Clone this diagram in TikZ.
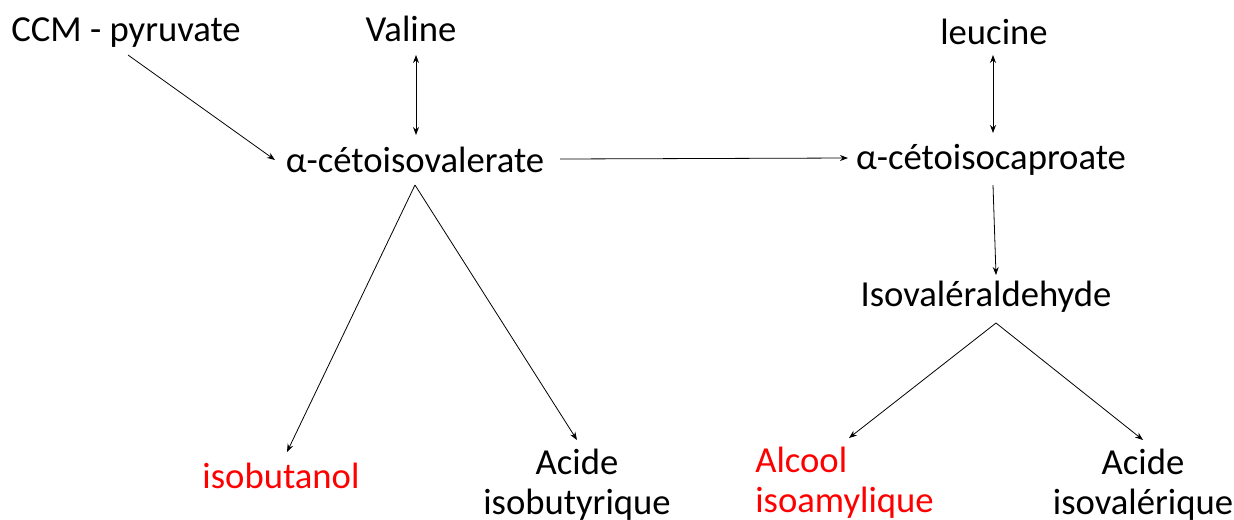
\documentclass[tikz,border=0pt]{standalone}
\usepackage{fontspec}
\setmainfont{Carlito}
\usetikzlibrary{arrows.meta,calc}
\begin{document}
\begin{tikzpicture}[x=0.75pt,y=-0.75pt,
  lbl/.style={inner sep=0pt,font=\fontsize{27.5}{30}\selectfont},
  redlbl/.style={lbl,text=red},
  arr/.style={line width=0.6pt,-{Stealth[length=6pt,width=4.5pt]}},
  darr/.style={line width=0.6pt,{Stealth[length=6pt,width=4.5pt]}-{Stealth[length=6pt,width=4.5pt]}}]
\useasboundingbox (0,0) rectangle (1234,519);
\node[lbl] (ccm) at (126,33) {CCM - pyruvate};
\node[lbl] (val) at (411,29) {Valine};
\node[lbl] (kiv) at (415,160) {α-cétoisovalerate};
\node[lbl] (leu) at (994,32) {leucine};
\node[lbl] (kic) at (991,160) {α-cétoisocaproate};
\node[lbl] (iva) at (986,297) {Isovaléraldehyde};
\node[redlbl] (ibu) at (281,476) {isobutanol};
\node[lbl,align=center] (aib) at (577,485) {Acide\\isobutyrique};
\node[redlbl,align=left,anchor=west] (aia) at (755,483) {Alcool\\isoamylique};
\node[lbl,align=center] (aiv) at (1143,485) {Acide\\isovalérique};
% connector end points
\coordinate (ccmout) at (128,55);
\coordinate (kivin) at (275,160);
\coordinate (valout) at (416,55);
\coordinate (kivtop) at (416,135);
\coordinate (kivright) at (560,159);
\coordinate (kicleft) at (848,158);
\coordinate (leuout) at (993,55);
\coordinate (kictop) at (993,133);
\coordinate (kicbot) at (993,185);
\coordinate (ivatop) at (996,275);
\coordinate (kivapex) at (415,185);
\coordinate (ibutop) at (287,452);
\coordinate (aibtop) at (577,440);
\coordinate (ivaapex) at (996,323);
\coordinate (aiatop) at (849,438);
\coordinate (aivtop) at (1143,440);
\draw[arr] (ccmout) -- (kivin);
\draw[darr] (valout) -- (kivtop);
\draw[arr] (kivright) -- (kicleft);
\draw[darr] (leuout) -- (kictop);
\draw[arr] (kicbot) -- (ivatop);
\draw[arr] (kivapex) -- (ibutop);
\draw[arr] (kivapex) -- (aibtop);
\draw[arr] (ivaapex) -- (aiatop);
\draw[arr] (ivaapex) -- (aivtop);
\end{tikzpicture}
\end{document}
